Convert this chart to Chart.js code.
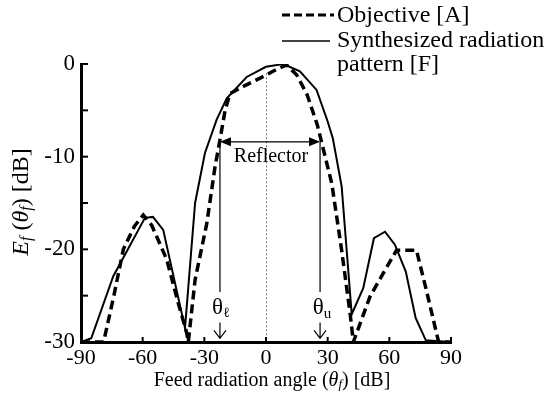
<!DOCTYPE html>
<html>
<head>
<meta charset="utf-8">
<script src="https://cdn.jsdelivr.net/npm/chart.js@4"></script>
<style>
  html, body { margin: 0; padding: 0; background: #fff; }
  #wrap { width: 552px; height: 400px; }
</style>
</head>
<body>
<div id="wrap"><canvas id="c" width="552" height="400"></canvas></div>
<script>
// Objective [A] (dashed) and synthesized pattern [F] (solid)
const anglesA = [-90, -79, -74, -69.4, -64, -59.7, -55.6, -48.3, -42.7, -38.6, -37.8, -34.5, -28.8, -24.8, -22.4, -19.9, -17.5, -10, 0, 5, 10, 15, 20, 25, 32, 36.8, 40.9, 42.5, 50.6, 57, 63.5, 73.2, 78, 82.9, 84, 90];
const valuesA = [-30, -30, -25, -20, -17.5, -16.3, -17.4, -21.1, -25.8, -29, -30, -23.3, -17.2, -11.1, -8.2, -5, -3.2, -2.3, -1.2, -0.6, -0.1, -1.2, -3.3, -6.6, -12.9, -20.1, -26.9, -30, -25.1, -22.6, -20.1, -20.1, -24.4, -29, -30, -30];

const anglesF = [-90, -85, -74.3, -58.9, -55, -50, -39.4, -34.5, -29.7, -24, -19.1, -9.4, 0, 8.4, 16.5, 24.6, 30, 32.5, 36.8, 41.7, 47.3, 52.5, 57.9, 62.7, 68, 72.8, 77.7, 90];
const valuesF = [-30, -29.6, -22.9, -16.6, -16.5, -17.9, -28.5, -15, -9.6, -6.0, -3.7, -1.4, -0.3, 0, -0.8, -2.8, -6.2, -8, -13.2, -27, -24.2, -18.8, -18.1, -19.5, -22.4, -27.4, -29.8, -30];

const xTicks = [-90, -60, -30, 0, 30, 60, 90];
const yTicks = [0, -10, -20, -30];

// annotation values (degrees / dB)
const thetaL = -22.4;
const thetaU = 26.3;
const reflectorLevel = -8.4;
const markerBottom = -24.6;
const labelLevel = -26.3;
const arrowTop = -27.9;
const arrowTip = -29.6;

const SERIF = '"Liberation Serif", "DejaVu Serif", serif';

function toPoints(xs, ys) {
  return xs.map((x, i) => ({ x, y: ys[i] }));
}

// draws a row of text pieces with different fonts, centred on cx
function drawPieces(ctx, pieces, cx, cy) {
  let total = 0;
  pieces.forEach(p => { ctx.font = p.font; total += ctx.measureText(p.text).width; });
  let x = cx - total / 2;
  ctx.textAlign = 'left';
  ctx.textBaseline = 'middle';
  pieces.forEach(p => {
    ctx.font = p.font;
    ctx.fillText(p.text, x, cy + (p.dy || 0));
    x += ctx.measureText(p.text).width;
  });
}

function arrowHead(ctx, x, y, dir) {
  ctx.beginPath();
  ctx.moveTo(x, y);
  ctx.lineTo(x - dir * 11, y - 4.5);
  ctx.lineTo(x - dir * 11, y + 4.5);
  ctx.closePath();
  ctx.fill();
}

const extras = {
  id: 'extras',
  beforeDatasetsDraw(chart) {
    const { ctx, scales: { x, y } } = chart;
    ctx.save();
    // centre dotted line
    ctx.strokeStyle = '#777';
    ctx.lineWidth = 1;
    ctx.setLineDash([2, 2]);
    ctx.beginPath();
    ctx.moveTo(x.getPixelForValue(0) + 0.5, y.getPixelForValue(-1));
    ctx.lineTo(x.getPixelForValue(0) + 0.5, y.getPixelForValue(-30));
    ctx.stroke();
    ctx.restore();
  },
  afterDraw(chart) {
    const { ctx, chartArea: a, scales: { x, y } } = chart;
    ctx.save();
    ctx.fillStyle = '#000';
    ctx.strokeStyle = '#000';

    // inward ticks
    ctx.lineWidth = 2;
    y.ticks.forEach(t => {
      const py = y.getPixelForValue(t.value);
      ctx.beginPath();
      ctx.moveTo(a.left, py);
      ctx.lineTo(a.left + 7, py);
      ctx.stroke();
    });
    x.ticks.forEach(t => {
      const px = x.getPixelForValue(t.value);
      ctx.beginPath();
      ctx.moveTo(px, a.bottom);
      ctx.lineTo(px, a.bottom - 5);
      ctx.stroke();
    });

    // reflector markers
    const xl = x.getPixelForValue(thetaL);
    const xu = x.getPixelForValue(thetaU);
    const yr = y.getPixelForValue(reflectorLevel);
    ctx.lineWidth = 1.2;
    ctx.beginPath();
    ctx.moveTo(xl + 8, yr); ctx.lineTo(xu - 8, yr);
    ctx.moveTo(xl, yr); ctx.lineTo(xl, y.getPixelForValue(markerBottom));
    ctx.moveTo(xu, yr); ctx.lineTo(xu, y.getPixelForValue(markerBottom));
    ctx.stroke();
    arrowHead(ctx, xl, yr, -1);
    arrowHead(ctx, xu, yr, 1);
    ctx.font = '20px ' + SERIF;
    ctx.textAlign = 'center';
    ctx.textBaseline = 'middle';
    ctx.fillText('Reflector', (xl + xu) / 2 + 1, yr + 15);

    // theta labels with down arrows
    const yl = y.getPixelForValue(labelLevel);
    drawPieces(ctx, [
      { text: 'θ', font: '23px ' + SERIF },
      { text: 'ℓ', font: '14px ' + SERIF, dy: 6 }
    ], xl + 1, yl);
    drawPieces(ctx, [
      { text: 'θ', font: '23px ' + SERIF },
      { text: 'u', font: '15px ' + SERIF, dy: 6 }
    ], xu + 2, yl);
    [xl, xu].forEach(px => {
      const t0 = y.getPixelForValue(arrowTop);
      const t1 = y.getPixelForValue(arrowTip);
      ctx.lineWidth = 1.2;
      ctx.beginPath();
      ctx.moveTo(px, t0); ctx.lineTo(px, t1);
      ctx.moveTo(px - 6, t1 - 8); ctx.lineTo(px, t1); ctx.lineTo(px + 6, t1 - 8);
      ctx.stroke();
    });

    // axis titles
    drawPieces(ctx, [
      { text: 'Feed radiation angle (', font: '20px ' + SERIF },
      { text: 'θ', font: 'italic 20px ' + SERIF },
      { text: 'f', font: 'italic 13px ' + SERIF, dy: 4 },
      { text: ') [dB]', font: '20px ' + SERIF }
    ], 272, 381);
    ctx.save();
    ctx.translate(22, 202);
    ctx.rotate(-Math.PI / 2);
    drawPieces(ctx, [
      { text: 'E', font: 'italic 24px ' + SERIF },
      { text: 'f', font: 'italic 16px ' + SERIF, dy: 5 },
      { text: ' (', font: '24px ' + SERIF },
      { text: 'θ', font: 'italic 24px ' + SERIF },
      { text: 'f', font: 'italic 16px ' + SERIF, dy: 5 },
      { text: ') [dB]', font: '24px ' + SERIF }
    ], 0, 0);
    ctx.restore();

    // legend
    ctx.lineWidth = 3;
    ctx.setLineDash([8, 4]);
    ctx.beginPath();
    ctx.moveTo(282, 15); ctx.lineTo(334, 15);
    ctx.stroke();
    ctx.setLineDash([]);
    ctx.lineWidth = 1.6;
    ctx.beginPath();
    ctx.moveTo(282, 41); ctx.lineTo(330, 41);
    ctx.stroke();
    ctx.font = '24px ' + SERIF;
    ctx.textAlign = 'left';
    ctx.textBaseline = 'middle';
    ctx.fillText('Objective [A]', 337, 16);
    ctx.fillText('Synthesized radiation', 337, 41);
    ctx.fillText('pattern [F]', 337, 65);
    ctx.restore();
  }
};

new Chart(document.getElementById('c'), {
  type: 'line',
  data: {
    datasets: [
      {
        label: 'Objective [A]',
        data: toPoints(anglesA, valuesA),
        borderColor: '#000',
        borderWidth: 3.5,
        borderDash: [9, 5],
        pointRadius: 0,
        tension: 0,
        fill: false
      },
      {
        label: 'Synthesized radiation pattern [F]',
        data: toPoints(anglesF, valuesF),
        borderColor: '#000',
        borderWidth: 2,
        pointRadius: 0,
        tension: 0,
        fill: false
      }
    ]
  },
  options: {
    responsive: false,
    animation: false,
    layout: { padding: { top: 64, right: 101, left: 0, bottom: 0 } },
    plugins: { legend: { display: false }, tooltip: { enabled: false } },
    scales: {
      x: {
        type: 'linear',
        min: -90,
        max: 90,
        afterFit: s => { s.height = 58; },
        afterBuildTicks: s => { s.ticks = xTicks.map(v => ({ value: v })); },
        grid: { display: false, drawTicks: false },
        border: { display: true, color: '#000', width: 3 },
        ticks: {
          color: '#000',
          font: { family: SERIF, size: 22 },
          padding: 3,
          maxRotation: 0,
          callback: v => String(v)
        }
      },
      y: {
        type: 'linear',
        min: -30,
        max: 0,
        afterFit: s => { s.width = 81; },
        afterBuildTicks: s => {
          const t = [];
          for (let v = -30; v <= 0; v += 5) t.push({ value: v });
          s.ticks = t;
        },
        grid: { display: false, drawTicks: false },
        border: { display: true, color: '#000', width: 3 },
        ticks: {
          color: '#000',
          font: { family: SERIF, size: 23 },
          padding: 6,
          callback: v => (yTicks.includes(v) ? String(v) : '')
        }
      }
    }
  },
  plugins: [extras]
});
</script>
</body>
</html>
